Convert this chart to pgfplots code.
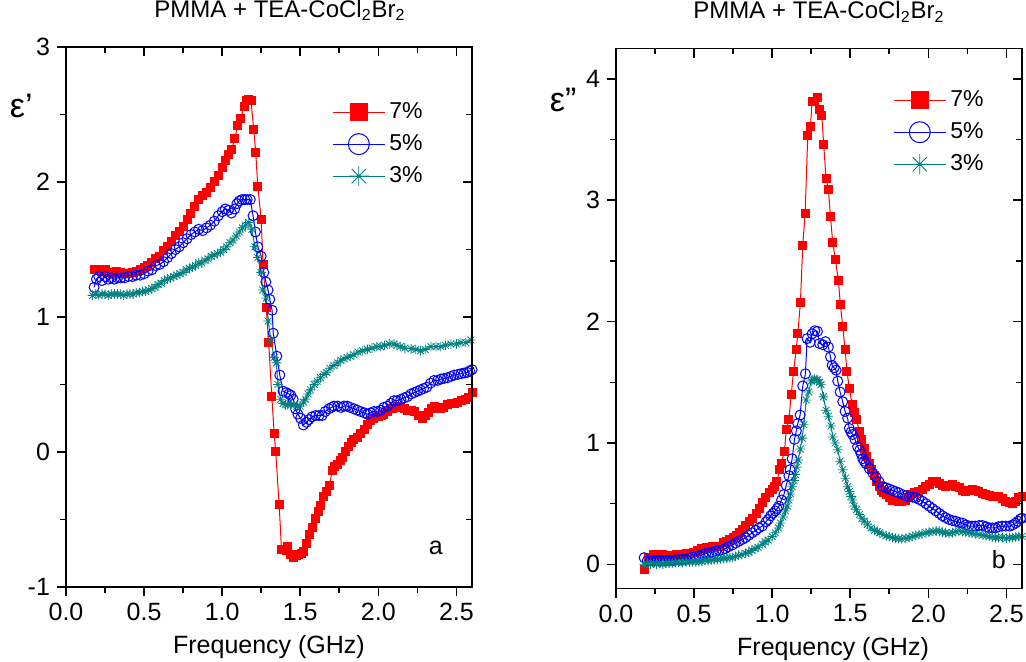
\documentclass[border=0pt]{standalone}
\usepackage{fontspec}
\setmainfont{Liberation Sans}
\usepackage{pgfplots}
\pgfplotsset{compat=1.18}

\definecolor{cred}{RGB}{255,0,0}
\definecolor{cblue}{RGB}{0,0,255}
\definecolor{cteal}{RGB}{0,128,128}

\newcommand\tl{\fontsize{12.5}{14}\selectfont}
\newcommand\ttl{\fontsize{12}{14}\selectfont}
\newcommand\lgf{\fontsize{11.5}{13}\selectfont}
\newcommand\eps{\fontsize{17}{19}\selectfont}

% eight-armed star like the Origin symbol
\pgfdeclareplotmark{star8}{%
  \pgfpathmoveto{\pgfqpoint{0pt}{\pgfplotmarksize}}\pgfpathlineto{\pgfqpoint{0pt}{-\pgfplotmarksize}}%
  \pgfpathmoveto{\pgfqpoint{\pgfplotmarksize}{0pt}}\pgfpathlineto{\pgfqpoint{-\pgfplotmarksize}{0pt}}%
  \pgfpathmoveto{\pgfqpoint{.707\pgfplotmarksize}{.707\pgfplotmarksize}}\pgfpathlineto{\pgfqpoint{-.707\pgfplotmarksize}{-.707\pgfplotmarksize}}%
  \pgfpathmoveto{\pgfqpoint{.707\pgfplotmarksize}{-.707\pgfplotmarksize}}\pgfpathlineto{\pgfqpoint{-.707\pgfplotmarksize}{.707\pgfplotmarksize}}%
  \pgfusepathqstroke}

\pgfplotsset{
  box/.style={
    scale only axis, width=203pt, height=270pt,
    xmin=0, xmax=2.6, xtick={0,0.5,1,1.5,2,2.5},
    minor x tick num=1, minor y tick num=1,
    axis line style={line width=0.8pt},
    every tick/.style={black, line width=0.8pt},
    major tick length=4.5pt, minor tick length=2.8pt,
  },
  panel/.style={
    box,
    xtick pos=bottom, ytick pos=left, tick align=outside,
    /pgf/number format/assume math mode=true,
    ticklabel style={font=\tl},
    xticklabel style={/pgf/number format/fixed, /pgf/number format/fixed zerofill, /pgf/number format/precision=1},
    xlabel={Frequency (GHz)},
    xlabel style={font=\tl, at={(axis description cs:0.5,0)}, anchor=base, yshift=-33.5pt},
    ylabel style={font=\eps, rotate=-90, anchor=center},
    title style={font=\ttl, at={(axis description cs:0.5,1)}, anchor=base, yshift=8.8pt},
    legend style={draw=none, fill=none, font=\lgf, anchor=north west, row sep=2.5pt, inner sep=0pt},
    legend cell align=left,
    legend image code/.code={\draw[mark repeat=2, mark phase=2, #1, every mark/.append style={scale=2.1}]
      plot coordinates {(0pt,0pt) (13pt,0pt) (26pt,0pt)};},
  },
  frame/.style={
    box, xtick pos=top, ytick pos=right, tick align=inside,
    xticklabels={}, yticklabels={},
  },
  s7/.style={cred, line width=0.5pt, mark=square*, mark size=2pt, mark options={fill=cred, draw=cred}},
  s5/.style={cblue, line width=0.5pt, mark=o, mark size=2.5pt},
  s3/.style={cteal, line width=0.5pt, mark=star8, mark size=2.4pt, mark options={line width=0.4pt}},
}

\begin{document}
\begin{tikzpicture}
% ---------------- panel a : real part ----------------
\begin{axis}[panel, at={(33pt,37.5pt)}, anchor=south west,
  ymin=-1, ymax=3, ytick={-1,0,1,2,3},
  ylabel={ε\symbol{39}}, ylabel style={at={(axis description cs:-0.11,0.89)}},
  title={PMMA + TEA-CoCl\textsubscript{2}Br\textsubscript{2}}, title style={xshift=5.5pt},
  legend style={at={(axis description cs:0.655,0.905)}},
]
\addplot[s7] table {
0.18 1.35
0.20 1.35
0.225 1.34
0.25 1.35
0.275 1.33
0.30 1.32
0.325 1.34
0.35 1.33
0.375 1.32
0.40 1.32
0.425 1.33
0.45 1.34
0.475 1.35
0.50 1.37
0.525 1.38
0.55 1.40
0.575 1.43
0.60 1.45
0.625 1.49
0.65 1.52
0.675 1.56
0.70 1.60
0.725 1.63
0.75 1.67
0.775 1.72
0.80 1.77
0.825 1.82
0.85 1.87
0.875 1.90
0.90 1.92
0.925 1.96
0.95 2.00
0.975 2.05
1.00 2.11
1.02 2.16
1.04 2.20
1.06 2.24
1.08 2.32
1.10 2.42
1.12 2.47
1.14 2.56
1.155 2.60
1.17 2.61
1.185 2.60
1.202 2.39
1.215 2.22
1.228 1.97
1.25 1.72
1.262 1.39
1.282 1.07
1.298 0.81
1.318 0.41
1.333 0.14
1.343 0.00
1.365 -0.39
1.380 -0.72
1.395 -0.72
1.41 -0.73
1.42 -0.70
1.44 -0.76
1.46 -0.78
1.475 -0.77
1.49 -0.76
1.505 -0.75
1.52 -0.74
1.54 -0.68
1.56 -0.61
1.577 -0.56
1.598 -0.49
1.615 -0.44
1.631 -0.40
1.652 -0.33
1.67 -0.29
1.686 -0.25
1.705 -0.14
1.72 -0.11
1.737 -0.09
1.755 -0.06
1.769 -0.04
1.79 0.00
1.812 0.04
1.83 0.07
1.844 0.09
1.865 0.11
1.887 0.14
1.91 0.17
1.93 0.20
1.95 0.23
1.972 0.25
2.00 0.26
2.02 0.27
2.036 0.28
2.06 0.30
2.09 0.32
2.12 0.34
2.14 0.33
2.165 0.32
2.19 0.31
2.21 0.31
2.23 0.30
2.255 0.27
2.28 0.25
2.30 0.27
2.32 0.29
2.34 0.32
2.36 0.34
2.38 0.33
2.40 0.32
2.42 0.33
2.443 0.35
2.47 0.36
2.49 0.36
2.51 0.37
2.535 0.38
2.56 0.39
2.58 0.40
2.60 0.44
};
\addlegendentry{7\%}
\addplot[s5] table {
0.18 1.22
0.195 1.28
0.21 1.30
0.23 1.27
0.25 1.30
0.27 1.28
0.29 1.29
0.31 1.28
0.33 1.29
0.35 1.29
0.375 1.29
0.40 1.30
0.425 1.30
0.45 1.31
0.475 1.31
0.50 1.32
0.525 1.34
0.55 1.35
0.575 1.38
0.60 1.39
0.625 1.41
0.65 1.44
0.675 1.47
0.70 1.50
0.725 1.52
0.75 1.55
0.775 1.58
0.80 1.61
0.825 1.63
0.85 1.65
0.875 1.64
0.90 1.66
0.925 1.68
0.95 1.71
0.975 1.75
1.00 1.78
1.02 1.80
1.04 1.79
1.06 1.77
1.08 1.80
1.095 1.84
1.11 1.86
1.127 1.87
1.145 1.87
1.16 1.87
1.18 1.87
1.198 1.75
1.213 1.63
1.228 1.52
1.25 1.45
1.267 1.33
1.28 1.26
1.294 1.20
1.305 1.13
1.32 1.05
1.327 0.88
1.35 0.71
1.369 0.57
1.39 0.45
1.41 0.44
1.427 0.43
1.44 0.42
1.455 0.39
1.47 0.32
1.485 0.28
1.502 0.25
1.52 0.20
1.54 0.22
1.555 0.24
1.575 0.26
1.598 0.27
1.62 0.27
1.64 0.27
1.66 0.30
1.683 0.32
1.70 0.33
1.716 0.34
1.74 0.34
1.76 0.33
1.78 0.34
1.80 0.34
1.82 0.33
1.844 0.32
1.865 0.31
1.887 0.30
1.91 0.29
1.93 0.28
1.95 0.29
1.972 0.30
1.995 0.30
2.015 0.31
2.035 0.33
2.058 0.34
2.08 0.36
2.10 0.38
2.12 0.38
2.144 0.39
2.165 0.40
2.186 0.41
2.21 0.43
2.23 0.44
2.25 0.45
2.27 0.46
2.29 0.47
2.31 0.48
2.335 0.51
2.357 0.53
2.38 0.53
2.40 0.54
2.42 0.545
2.443 0.55
2.465 0.56
2.486 0.57
2.51 0.575
2.53 0.58
2.55 0.585
2.57 0.59
2.585 0.60
2.60 0.61
};
\addlegendentry{5\%}
\addplot[s3] table {
0.17 1.16
0.19 1.17
0.21 1.16
0.23 1.17
0.25 1.17
0.27 1.16
0.29 1.17
0.31 1.17
0.33 1.17
0.35 1.17
0.37 1.16
0.39 1.17
0.41 1.17
0.43 1.17
0.45 1.18
0.47 1.18
0.49 1.19
0.51 1.19
0.53 1.20
0.55 1.21
0.57 1.22
0.59 1.24
0.61 1.25
0.63 1.27
0.65 1.28
0.67 1.29
0.69 1.30
0.71 1.31
0.73 1.32
0.75 1.33
0.77 1.35
0.79 1.36
0.81 1.37
0.83 1.38
0.85 1.40
0.87 1.40
0.89 1.42
0.91 1.43
0.93 1.45
0.95 1.46
0.97 1.47
0.99 1.48
1.01 1.50
1.03 1.52
1.05 1.55
1.07 1.57
1.09 1.60
1.11 1.63
1.13 1.66
1.15 1.68
1.17 1.70
1.19 1.65
1.21 1.52
1.228 1.44
1.25 1.33
1.26 1.20
1.282 1.14
1.295 0.97
1.312 0.83
1.333 0.70
1.347 0.66
1.357 0.50
1.375 0.39
1.39 0.36
1.405 0.35
1.42 0.35
1.44 0.35
1.46 0.35
1.48 0.34
1.50 0.34
1.52 0.37
1.535 0.39
1.55 0.43
1.566 0.46
1.59 0.50
1.609 0.525
1.63 0.55
1.652 0.575
1.67 0.59
1.69 0.62
1.716 0.64
1.74 0.66
1.76 0.68
1.78 0.69
1.80 0.70
1.82 0.71
1.844 0.72
1.87 0.74
1.90 0.75
1.93 0.76
1.96 0.77
1.99 0.78
2.015 0.78
2.04 0.79
2.07 0.80
2.10 0.80
2.12 0.79
2.14 0.78
2.17 0.77
2.21 0.765
2.24 0.76
2.27 0.75
2.30 0.76
2.337 0.78
2.37 0.78
2.40 0.78
2.43 0.79
2.465 0.80
2.50 0.80
2.53 0.81
2.56 0.81
2.593 0.83
};
\addlegendentry{3\%}
\node[font=\tl] at (rel axis cs:0.911,0.072) {a};
\end{axis}
\begin{axis}[frame, at={(33pt,37.5pt)}, anchor=south west,
  ymin=-1, ymax=3, ytick={-1,0,1,2,3}]
\end{axis}

% ---------------- panel b : imaginary part ----------------
\begin{axis}[panel, at={(308pt,36.7pt)}, anchor=south west,
  ymin=-0.2, ymax=4.25, ytick={0,1,2,3,4},
  ylabel={ε\symbol{34}}, ylabel style={at={(axis description cs:-0.13,0.905)}},
  title={PMMA + TEA-CoCl\textsubscript{2}Br\textsubscript{2}},
  xlabel style={xshift=7pt},
  legend style={at={(axis description cs:0.682,0.93)}},
]
\addplot[s7] table {
0.18 -0.04
0.21 0.06
0.238 0.08
0.26 0.08
0.28 0.07
0.30 0.08
0.33 0.07
0.36 0.07
0.39 0.08
0.42 0.08
0.45 0.09
0.47 0.09
0.494 0.10
0.52 0.11
0.55 0.13
0.579 0.14
0.60 0.14
0.62 0.15
0.64 0.15
0.664 0.15
0.69 0.18
0.71 0.19
0.728 0.205
0.75 0.22
0.77 0.24
0.79 0.26
0.81 0.29
0.83 0.32
0.856 0.355
0.875 0.38
0.898 0.42
0.92 0.46
0.94 0.51
0.96 0.55
0.983 0.59
1.00 0.62
1.015 0.64
1.03 0.68
1.047 0.78
1.058 0.835
1.079 0.93
1.09 1.11
1.107 1.19
1.122 1.40
1.137 1.59
1.154 1.77
1.164 1.90
1.181 2.16
1.196 2.63
1.211 2.89
1.228 3.53
1.245 3.61
1.256 3.815
1.27 3.81
1.288 3.85
1.303 3.75
1.318 3.70
1.33 3.46
1.345 3.18
1.36 3.09
1.373 2.87
1.388 2.65
1.405 2.51
1.424 2.34
1.437 2.14
1.452 1.96
1.467 1.77
1.479 1.59
1.494 1.45
1.512 1.32
1.526 1.25
1.541 1.19
1.558 1.095
1.575 1.03
1.59 0.955
1.606 0.89
1.622 0.835
1.638 0.78
1.654 0.73
1.67 0.68
1.686 0.64
1.70 0.61
1.715 0.59
1.73 0.575
1.75 0.55
1.77 0.53
1.79 0.525
1.81 0.52
1.83 0.52
1.856 0.53
1.875 0.55
1.888 0.575
1.91 0.59
1.94 0.60
1.96 0.62
1.984 0.64
2.005 0.66
2.026 0.685
2.05 0.68
2.07 0.67
2.09 0.65
2.11 0.64
2.13 0.65
2.154 0.66
2.175 0.645
2.197 0.63
2.22 0.61
2.24 0.60
2.26 0.61
2.28 0.62
2.30 0.61
2.32 0.60
2.345 0.585
2.367 0.575
2.39 0.565
2.41 0.56
2.43 0.56
2.452 0.56
2.475 0.54
2.495 0.52
2.52 0.51
2.54 0.505
2.56 0.52
2.58 0.55
2.60 0.56
};
\addlegendentry{7\%}
\addplot[s5] table {
0.18 0.055
0.20 0.03
0.22 0.03
0.24 0.03
0.26 0.03
0.28 0.03
0.30 0.03
0.32 0.03
0.34 0.03
0.362 0.03
0.38 0.035
0.40 0.04
0.425 0.04
0.447 0.04
0.47 0.05
0.49 0.06
0.51 0.065
0.532 0.07
0.555 0.08
0.575 0.09
0.595 0.095
0.617 0.10
0.64 0.11
0.66 0.115
0.681 0.12
0.70 0.13
0.72 0.145
0.745 0.16
0.765 0.175
0.787 0.19
0.809 0.205
0.83 0.22
0.85 0.24
0.873 0.26
0.895 0.28
0.915 0.30
0.937 0.315
0.96 0.35
0.975 0.37
0.99 0.40
1.005 0.42
1.02 0.44
1.032 0.46
1.043 0.48
1.06 0.53
1.075 0.575
1.09 0.65
1.107 0.73
1.115 0.78
1.128 0.87
1.143 1.03
1.155 1.10
1.164 1.16
1.179 1.23
1.196 1.47
1.213 1.57
1.224 1.86
1.243 1.83
1.256 1.90
1.273 1.925
1.29 1.92
1.303 1.82
1.324 1.81
1.341 1.835
1.36 1.79
1.373 1.71
1.384 1.64
1.397 1.62
1.409 1.60
1.42 1.51
1.435 1.42
1.452 1.34
1.467 1.26
1.483 1.205
1.494 1.12
1.505 1.09
1.515 1.07
1.53 1.03
1.547 0.97
1.56 0.94
1.57 0.91
1.58 0.87
1.59 0.85
1.60 0.83
1.622 0.79
1.645 0.75
1.665 0.72
1.685 0.68
1.707 0.64
1.73 0.63
1.75 0.62
1.77 0.61
1.79 0.60
1.81 0.59
1.835 0.575
1.855 0.565
1.877 0.556
1.90 0.553
1.92 0.55
1.94 0.535
1.962 0.52
1.985 0.50
2.005 0.48
2.026 0.46
2.048 0.44
2.07 0.42
2.09 0.40
2.11 0.385
2.133 0.37
2.155 0.36
2.176 0.355
2.197 0.345
2.218 0.34
2.24 0.325
2.26 0.315
2.28 0.315
2.30 0.315
2.325 0.32
2.346 0.32
2.37 0.31
2.39 0.30
2.41 0.30
2.43 0.30
2.45 0.31
2.473 0.315
2.495 0.315
2.52 0.315
2.54 0.325
2.559 0.34
2.575 0.355
2.59 0.375
2.60 0.38
};
\addlegendentry{5\%}
\addplot[s3] table {
0.18 0.00
0.20 0.01
0.22 0.00
0.24 0.01
0.26 0.00
0.28 0.01
0.30 0.00
0.32 0.01
0.34 0.01
0.36 0.01
0.38 0.015
0.40 0.015
0.426 0.015
0.45 0.02
0.47 0.02
0.49 0.02
0.51 0.02
0.532 0.02
0.55 0.025
0.57 0.03
0.59 0.03
0.61 0.035
0.63 0.04
0.65 0.04
0.67 0.045
0.69 0.05
0.71 0.05
0.73 0.055
0.745 0.055
0.765 0.065
0.785 0.075
0.805 0.08
0.83 0.09
0.851 0.10
0.87 0.115
0.89 0.13
0.91 0.14
0.937 0.165
0.955 0.185
0.975 0.20
1.00 0.23
1.02 0.26
1.04 0.30
1.054 0.34
1.07 0.39
1.086 0.44
1.097 0.48
1.107 0.53
1.118 0.58
1.128 0.64
1.14 0.69
1.149 0.74
1.158 0.80
1.167 0.86
1.18 0.95
1.192 1.04
1.203 1.15
1.218 1.355
1.234 1.42
1.25 1.51
1.26 1.52
1.271 1.525
1.282 1.52
1.292 1.52
1.303 1.50
1.313 1.48
1.328 1.38
1.345 1.27
1.36 1.22
1.377 1.14
1.388 1.05
1.403 1.00
1.42 0.945
1.435 0.85
1.452 0.78
1.469 0.71
1.483 0.64
1.495 0.60
1.505 0.56
1.515 0.53
1.526 0.48
1.54 0.45
1.558 0.41
1.575 0.38
1.59 0.355
1.61 0.33
1.633 0.30
1.655 0.28
1.675 0.27
1.686 0.26
1.71 0.245
1.73 0.235
1.75 0.23
1.77 0.22
1.79 0.215
1.81 0.21
1.83 0.21
1.855 0.215
1.877 0.22
1.90 0.23
1.92 0.24
1.94 0.245
1.96 0.25
1.985 0.26
2.005 0.265
2.03 0.27
2.05 0.275
2.07 0.275
2.09 0.265
2.11 0.26
2.133 0.255
2.155 0.26
2.176 0.27
2.197 0.275
2.22 0.27
2.24 0.265
2.26 0.26
2.28 0.255
2.30 0.25
2.325 0.245
2.35 0.24
2.37 0.235
2.39 0.23
2.41 0.225
2.43 0.22
2.45 0.22
2.475 0.22
2.50 0.215
2.52 0.22
2.54 0.22
2.56 0.225
2.58 0.23
2.60 0.23
};
\addlegendentry{3\%}
\node[font=\tl] at (rel axis cs:0.943,0.053) {b};
\end{axis}
\begin{axis}[frame, at={(308pt,36.7pt)}, anchor=south west,
  ymin=-0.2, ymax=4.25, ytick={0,1,2,3,4}]
\end{axis}

\pgfresetboundingbox
\path[use as bounding box] (0,0) rectangle (513pt,331pt);
\end{tikzpicture}
\end{document}
